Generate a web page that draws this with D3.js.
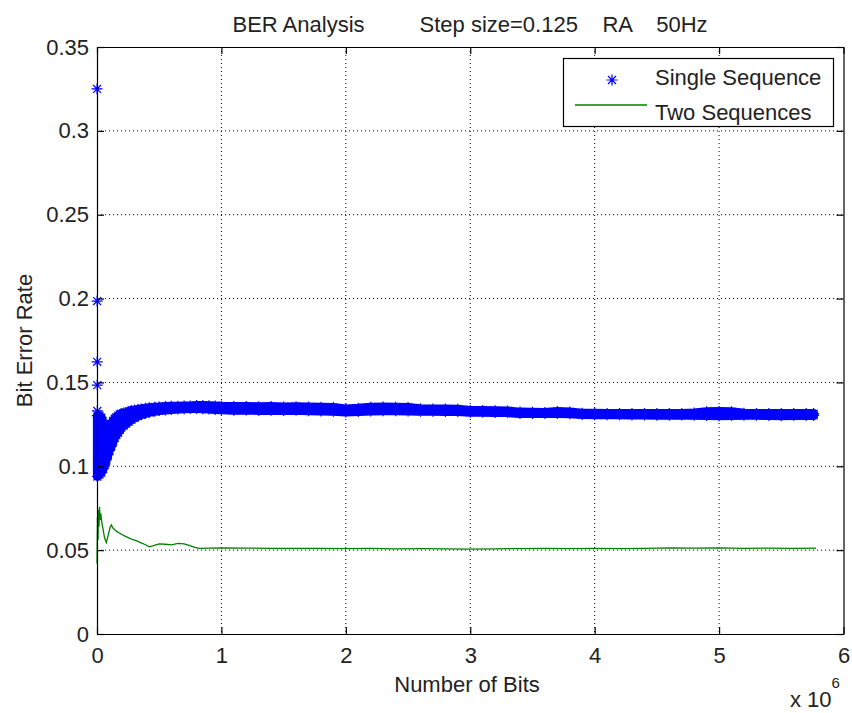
<!DOCTYPE html>
<html>
<head>
<meta charset="utf-8">
<script src="https://cdn.jsdelivr.net/npm/d3@7"></script>
<style>
body { margin: 0; background: #fff; }
text { font-family: "Liberation Sans", Arial, sans-serif; fill: #222; }
</style>
</head>
<body>
<div id="chart"></div>
<script>
// x values are in millions of bits (axis shows x 10^6)
var xTicks = [0, 1, 2, 3, 4, 5, 6];
var yTicks = [0, 0.05, 0.1, 0.15, 0.2, 0.25, 0.3, 0.35];
var yTickLabels = ["0", "0.05", "0.1", "0.15", "0.2", "0.25", "0.3", "0.35"];

// single sequence: first few estimates (outliers at the very start)
var singleEarlyX = [0.0005, 0.001, 0.0015, 0.002, 0.0025];
var singleEarlyY = [0.325, 0.1985, 0.1623, 0.1484, 0.1330];

// single sequence: upper / lower envelope of the dense band of estimates
var bandX = [0.003, 0.02, 0.035, 0.05, 0.062, 0.075, 0.088, 0.10, 0.115, 0.13,
             0.142, 0.155, 0.17, 0.185, 0.195, 0.215, 0.235, 0.255, 0.276, 0.30,
             0.33, 0.356, 0.39, 0.42, 0.463, 0.50, 0.55, 0.597, 0.65, 0.70,
             0.75, 0.80, 0.85, 0.90, 0.95, 1.0, 1.1, 1.2, 1.3, 1.4,
             1.5, 1.6, 1.7, 1.8, 1.9, 2.0, 2.1, 2.2, 2.3, 2.4,
             2.5, 2.6, 2.7, 2.8, 2.9, 3.0, 3.1, 3.2, 3.3, 3.4,
             3.5, 3.6, 3.7, 3.8, 3.9, 4.0, 4.1, 4.2, 4.3, 4.4,
             4.5, 4.6, 4.7, 4.8, 4.9, 5.0, 5.1, 5.2, 5.3, 5.4,
             5.5, 5.6, 5.7, 5.76];
var bandUpper = [0.1302, 0.1302, 0.1290, 0.1254, 0.1237, 0.1231, 0.1237, 0.1243, 0.1254, 0.1270,
                 0.1284, 0.1293, 0.1302, 0.1309, 0.1314, 0.1317, 0.1320, 0.1326, 0.1332, 0.1335,
                 0.1339, 0.1342, 0.1346, 0.1349, 0.1352, 0.1354, 0.1356, 0.1358, 0.1358, 0.1359,
                 0.1360, 0.1362, 0.1362, 0.1361, 0.1360, 0.1358, 0.1356, 0.1357, 0.1355, 0.1356,
                 0.1354, 0.1355, 0.1353, 0.1352, 0.1350, 0.1342, 0.1346, 0.1352, 0.1353, 0.1352,
                 0.1350, 0.1343, 0.1342, 0.1341, 0.1340, 0.1333, 0.1332, 0.1331, 0.1330, 0.1323,
                 0.1322, 0.1321, 0.1326, 0.1324, 0.1316, 0.1316, 0.1315, 0.1314, 0.1314, 0.1315,
                 0.1314, 0.1314, 0.1315, 0.1318, 0.1325, 0.1326, 0.1325, 0.1316, 0.1315, 0.1315,
                 0.1314, 0.1314, 0.1314, 0.1314];
var bandLower = [0.0939, 0.0951, 0.0962, 0.0986, 0.1010, 0.1040, 0.1070, 0.1094, 0.1120, 0.1148,
                 0.1171, 0.1187, 0.1201, 0.1218, 0.1231, 0.1243, 0.1254, 0.1266, 0.1278, 0.1288,
                 0.1300, 0.1308, 0.1315, 0.1321, 0.1328, 0.1332, 0.1335, 0.1338, 0.1341, 0.1343,
                 0.1344, 0.1344, 0.1343, 0.1341, 0.1339, 0.1337, 0.1334, 0.1335, 0.1333, 0.1334,
                 0.1332, 0.1334, 0.1331, 0.1330, 0.1328, 0.1324, 0.1326, 0.1330, 0.1331, 0.1331,
                 0.1330, 0.1328, 0.1328, 0.1327, 0.1326, 0.1322, 0.1322, 0.1321, 0.1320, 0.1315,
                 0.1314, 0.1314, 0.1314, 0.1313, 0.1309, 0.1308, 0.1308, 0.1307, 0.1306, 0.1306,
                 0.1305, 0.1305, 0.1306, 0.1304, 0.1303, 0.1302, 0.1303, 0.1304, 0.1304, 0.1303,
                 0.1302, 0.1303, 0.1303, 0.1303];

// two sequences
var twoX = [0, 0.004, 0.008, 0.012, 0.016, 0.02, 0.025, 0.03, 0.04, 0.05,
            0.06, 0.075, 0.09, 0.105, 0.115, 0.13, 0.16, 0.19, 0.22, 0.26,
            0.29, 0.32, 0.35, 0.39, 0.42, 0.46, 0.5, 0.55, 0.6, 0.65,
            0.7, 0.74, 0.78, 0.82, 0.9, 1.0, 1.2, 1.4, 1.6, 1.8,
            2.0, 2.2, 2.4, 2.6, 2.8, 3.0, 3.2, 3.4, 3.6, 3.8,
            4.0, 4.2, 4.4, 4.6, 4.8, 5.0, 5.2, 5.4, 5.6, 5.78];
var twoY = [0.0421, 0.0700, 0.0560, 0.0740, 0.0640, 0.0759, 0.0680, 0.0720, 0.0660, 0.0620,
            0.0575, 0.0545, 0.0590, 0.0635, 0.0650, 0.0630, 0.0610, 0.0598, 0.0585, 0.0572,
            0.0562, 0.0555, 0.0545, 0.0532, 0.0520, 0.0528, 0.0537, 0.0535, 0.0532, 0.0540,
            0.0538, 0.0528, 0.0518, 0.0510, 0.0512, 0.0514, 0.0512, 0.0511, 0.0510, 0.0511,
            0.0509, 0.0510, 0.0508, 0.0509, 0.0507, 0.0506, 0.0508, 0.0509, 0.0510, 0.0509,
            0.0510, 0.0509, 0.0510, 0.0513, 0.0512, 0.0513, 0.0510, 0.0512, 0.0511, 0.0512];

var legendNames = ["Single Sequence", "Two Sequences"];
var blue = "#0000ff", green = "#008000";

var width = 852, height = 713;
var margin = {left: 97, right: 8.5, top: 47, bottom: 79};
var plotW = width - margin.left - margin.right;
var plotH = height - margin.top - margin.bottom;

var svg = d3.select("#chart")
    .append("svg")
    .attr("width", width)
    .attr("height", height);

var g = svg.append("g")
    .attr("transform", "translate(" + margin.left + "," + margin.top + ")");

var x = d3.scaleLinear().domain([0, 6]).range([0, plotW]);
var y = d3.scaleLinear().domain([0, 0.35]).range([plotH, 0]);

// dotted grid
g.selectAll(".vgrid")
    .data(xTicks.slice(1, -1))
    .enter()
    .append("line")
    .attr("x1", function(d){ return x(d); })
    .attr("x2", function(d){ return x(d); })
    .attr("y1", 0)
    .attr("y2", plotH)
    .attr("stroke", "#000")
    .attr("stroke-dasharray", "1,3");
g.selectAll(".hgrid")
    .data(yTicks.slice(1, -1))
    .enter()
    .append("line")
    .attr("x1", 0)
    .attr("x2", plotW)
    .attr("y1", function(d){ return y(d); })
    .attr("y2", function(d){ return y(d); })
    .attr("stroke", "#000")
    .attr("stroke-dasharray", "1,3");

// single sequence band: the markers overlap into a solid band,
// so the envelope is filled and stroked about one marker wide
var band = bandX.map(function(d, i){ return {x: d, hi: bandUpper[i], lo: bandLower[i]}; });
g.append("path")
    .datum(band)
    .attr("fill", blue)
    .attr("stroke", blue)
    .attr("stroke-width", 9)
    .attr("stroke-linejoin", "round")
    .attr("d", d3.area()
        .x(function(d){ return x(d.x); })
        .y0(function(d){ return y(d.lo); })
        .y1(function(d){ return y(d.hi); }));

var starPath = function(h){
    var d = h * 0.72;
    return "M" + (-h) + ",0H" + h + "M0," + (-h) + "V" + h +
           "M" + (-d) + "," + (-d) + "L" + d + "," + d +
           "M" + (-d) + "," + d + "L" + d + "," + (-d);
};

var stars = [];
band.forEach(function(d){
    stars.push({x: d.x, y: d.hi});
    stars.push({x: d.x, y: d.lo});
});
singleEarlyX.forEach(function(d, i){ stars.push({x: d, y: singleEarlyY[i]}); });

g.selectAll(".star")
    .data(stars)
    .enter()
    .append("path")
    .attr("class", "star")
    .attr("transform", function(d){ return "translate(" + x(d.x) + "," + y(d.y) + ")"; })
    .attr("d", starPath(5.5))
    .attr("fill", "none")
    .attr("stroke", blue)
    .attr("stroke-width", 1.2);

// two sequences line
g.append("path")
    .datum(twoX.map(function(d, i){ return [d, twoY[i]]; }))
    .attr("fill", "none")
    .attr("stroke", green)
    .attr("stroke-width", 1.3)
    .attr("d", d3.line()
        .x(function(d){ return x(d[0]); })
        .y(function(d){ return y(d[1]); }));

// axes with inward ticks on all four sides
var fontSize = "22px";
var xAxis = g.append("g")
    .attr("transform", "translate(0," + plotH + ")")
    .call(d3.axisBottom(x).tickValues(xTicks).tickFormat(d3.format("d"))
        .tickSizeInner(-7).tickSizeOuter(0).tickPadding(13));
var yAxis = g.append("g")
    .call(d3.axisLeft(y).tickValues(yTicks).tickFormat(function(d, i){ return yTickLabels[i]; })
        .tickSizeInner(-7).tickSizeOuter(0).tickPadding(8));
var topAxis = g.append("g")
    .call(d3.axisTop(x).tickValues(xTicks).tickFormat("").tickSizeInner(-7).tickSizeOuter(0));
var rightAxis = g.append("g")
    .attr("transform", "translate(" + plotW + ",0)")
    .call(d3.axisRight(y).tickValues(yTicks).tickFormat("").tickSizeInner(-7).tickSizeOuter(0));

g.selectAll(".domain, .tick line").attr("stroke", "#000").attr("stroke-width", 1.2);
g.selectAll(".tick text")
    .attr("font-size", fontSize)
    .attr("font-family", "Liberation Sans, Arial, sans-serif")
    .attr("fill", "#222");

// titles and labels
svg.append("text")
    .attr("x", 470)
    .attr("y", 32)
    .attr("text-anchor", "middle")
    .attr("font-size", fontSize)
    .style("white-space", "pre")
    .text("BER Analysis         Step size=0.125    RA    50Hz");

svg.append("text")
    .attr("x", 467)
    .attr("y", 692)
    .attr("text-anchor", "middle")
    .attr("font-size", fontSize)
    .text("Number of Bits");

svg.append("text")
    .attr("transform", "translate(32," + (margin.top + plotH / 2) + ") rotate(-90)")
    .attr("text-anchor", "middle")
    .attr("font-size", fontSize)
    .text("Bit Error Rate");

var mult = svg.append("text")
    .attr("x", 790)
    .attr("y", 707)
    .attr("font-size", fontSize);
mult.append("tspan").text("x 10");
mult.append("tspan").attr("dy", -19).attr("font-size", "15px").text("6");

// legend
var legend = svg.append("g");
legend.append("rect")
    .attr("x", 563.5)
    .attr("y", 58.5)
    .attr("width", 270)
    .attr("height", 68)
    .attr("fill", "#fff")
    .attr("stroke", "#000")
    .attr("stroke-width", 1.2);
legend.append("path")
    .attr("transform", "translate(612,80)")
    .attr("d", starPath(5.5))
    .attr("fill", "none")
    .attr("stroke", blue)
    .attr("stroke-width", 1.2);
legend.append("line")
    .attr("x1", 575).attr("x2", 647)
    .attr("y1", 105).attr("y2", 105)
    .attr("stroke", green)
    .attr("stroke-width", 1.3);
legend.selectAll(".legText")
    .data(legendNames)
    .enter()
    .append("text")
    .attr("x", 655)
    .attr("y", function(d, i){ return 85 + i * 34.5; })
    .attr("font-size", fontSize)
    .text(function(d){ return d; });
</script>
</body>
</html>
